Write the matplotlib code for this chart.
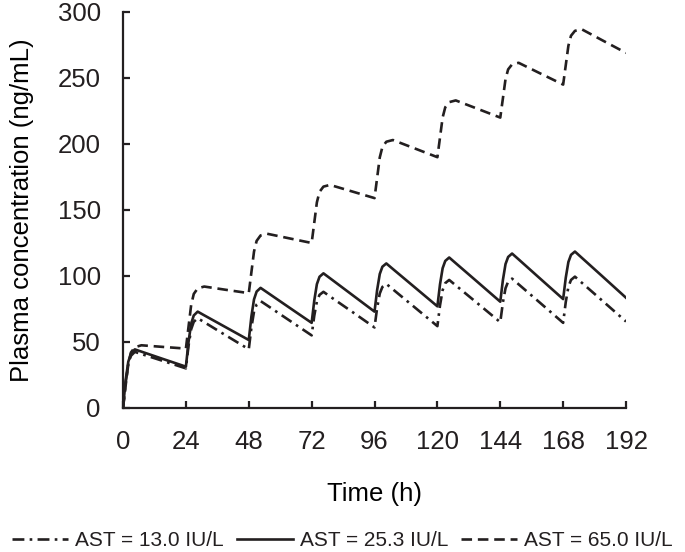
import matplotlib
matplotlib.use("Agg")
import matplotlib.pyplot as plt

# hodnoty (davka kazdych 24 h)
hours = [0, 1, 2, 3, 4.5, 7, 15,
         24, 25, 26, 27, 28.5, 31, 39,
         48, 49, 50, 51, 52.5, 55, 63,
         72, 73, 74, 75, 76.5, 79, 87,
         96, 97, 98, 99, 100.5, 103, 111,
         120, 121, 122, 123, 124.5, 127, 135,
         144, 145, 146, 147, 148.5, 151, 159,
         168, 169, 170, 171, 172.5, 175, 183,
         192]

ast_13 = [0, 19, 33, 39.5, 42.5, 40.9, 35.8,
          30, 47.1, 59.6, 65.3, 68, 65, 55.3,
          44.5, 60.9, 73, 78.4, 81, 77.7, 67,
          55, 69.9, 80.7, 85.7, 88, 84.5, 73.5,
          61, 75.9, 86.7, 91.7, 94, 89.9, 76.8,
          62, 77.8, 89.3, 94.6, 97, 92.9, 79.8,
          65, 79.9, 90.7, 95.7, 98, 93.7, 80,
          64.5, 80.3, 91.8, 97, 99.5, 95.1, 81.2,
          65.5]

ast_25 = [0, 21, 35, 41, 44.4, 42.7, 37.3,
          31.3, 50, 63.8, 70.1, 73, 70.2, 61.4,
          51.5, 69.3, 82.3, 88.2, 91, 87.6, 76.7,
          64.5, 81.4, 93.8, 99.4, 102, 98.3, 86.4,
          73, 89.4, 101.5, 107, 109.5, 105.3, 92.0,
          77, 93.7, 105.9, 111.4, 114, 109.7, 96.0,
          80.5, 96.9, 109, 114.4, 117, 112.6, 98.4,
          82.5, 98.7, 110.6, 116, 118.5, 114, 99.7,
          83.5]

ast_65 = [0, 17, 33, 42, 46, 47.5, 46.3,
          45, 61.5, 77.9, 86.4, 90.6, 92, 89.6,
          87, 102.8, 118.5, 126.6, 130.7, 132, 128.7,
          125, 140.4, 155.8, 163.7, 167.7, 169, 164.3,
          159, 174.4, 189.8, 197.7, 201.7, 203, 196.9,
          190, 205, 220.1, 227.8, 231.7, 233, 226.9,
          220, 234.5, 249.1, 256.5, 260.3, 261.5, 253.7,
          245, 259.7, 274.4, 282, 285.7, 287, 278.5,
          269]

labels = ["AST = 13.0 IU/L", "AST = 25.3 IU/L", "AST = 65.0 IU/L"]
x_ticks = [0, 24, 48, 72, 96, 120, 144, 168, 192]
y_ticks = [0, 50, 100, 150, 200, 250, 300]

ink = "#231f20"
plt.rcParams["font.family"] = ["Liberation Sans", "DejaVu Sans"]
plt.rcParams["text.color"] = ink

fig = plt.figure(figsize=(6.85, 5.52), dpi=100)
ax = fig.add_axes([0.1796, 0.2609, 0.7343, 0.7174])

ax.plot(hours, ast_13, color=ink, lw=1.9, linestyle=(0, (4.5, 2, 1, 2)), label=labels[0])
ax.plot(hours, ast_25, color=ink, lw=1.9, linestyle="-", label=labels[1])
ax.plot(hours, ast_65, color=ink, lw=1.9, linestyle=(0, (4, 2.2)), label=labels[2])

ax.set_xlim(0, 192)
ax.set_ylim(0, 300)
ax.set_xticks(x_ticks)
ax.set_yticks(y_ticks)
for s in ["top", "right"]:
    ax.spines[s].set_visible(False)
for s in ["left", "bottom"]:
    ax.spines[s].set_linewidth(1.6)
    ax.spines[s].set_color(ink)
ax.tick_params(direction="in", length=5, width=1.6, colors=ink, labelsize=18.5, pad=16)

ax.set_xlabel("Time (h)", fontsize=18.5, labelpad=20)
ax.set_ylabel("Plasma concentration (ng/mL)", fontsize=18.5, labelpad=17)

fig.legend(loc="lower center", bbox_to_anchor=(0.5, -0.012), ncol=3, frameon=False,
           fontsize=15, handlelength=2.7, handletextpad=0.35, columnspacing=0.6,
           borderaxespad=0)

fig.savefig("out.png", dpi=100)
